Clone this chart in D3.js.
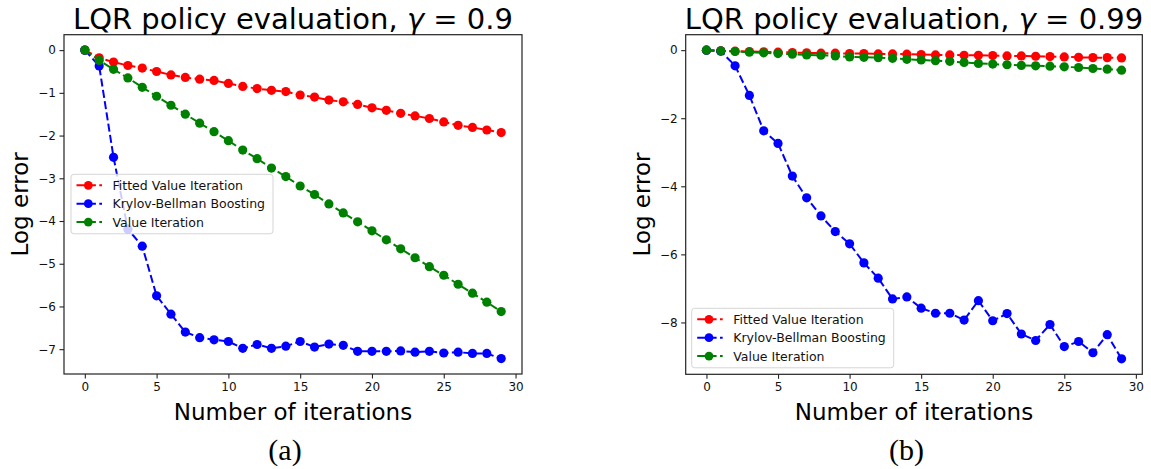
<!DOCTYPE html>
<html>
<head>
<meta charset="utf-8">
<script src="https://cdn.jsdelivr.net/npm/d3@7/dist/d3.min.js"></script>
<style>
  html, body { margin: 0; padding: 0; background: #fff; }
  svg { display: block; font-family: "DejaVu Sans", sans-serif; }
</style>
</head>
<body>
<svg id="chart" width="1151" height="469"></svg>
<script>
// ---------------- data ----------------
const iterations = [0,1,2,3,4,5,6,7,8,9,10,11,12,13,14,15,16,17,18,19,20,21,22,23,24,25,26,27,28,29];

const seriesNames = ["Fitted Value Iteration", "Krylov-Bellman Boosting", "Value Iteration"];
const seriesColors = ["#ff0000", "#0000ff", "#008000"];

// (a) gamma = 0.9
const fviA = [0,-0.18,-0.28,-0.36,-0.42,-0.50,-0.58,-0.64,-0.68,-0.71,-0.78,-0.85,-0.90,-0.94,-0.97,-1.05,-1.10,-1.17,-1.21,-1.27,-1.35,-1.41,-1.48,-1.54,-1.60,-1.68,-1.76,-1.81,-1.87,-1.93];
const kbbA = [0,-0.37,-2.51,-4.19,-4.59,-5.75,-6.18,-6.60,-6.73,-6.78,-6.82,-6.98,-6.89,-6.98,-6.93,-6.82,-6.95,-6.88,-6.91,-7.05,-7.05,-7.05,-7.04,-7.07,-7.05,-7.09,-7.07,-7.10,-7.10,-7.22];
const viA  = [0,-0.24,-0.45,-0.65,-0.87,-1.08,-1.29,-1.50,-1.71,-1.91,-2.12,-2.34,-2.54,-2.76,-2.96,-3.18,-3.38,-3.60,-3.81,-4.02,-4.23,-4.44,-4.65,-4.86,-5.07,-5.27,-5.48,-5.69,-5.90,-6.12];

// (b) gamma = 0.99
const fviB = [0,-0.02,-0.03,-0.04,-0.05,-0.06,-0.07,-0.08,-0.09,-0.09,-0.10,-0.10,-0.11,-0.11,-0.12,-0.13,-0.14,-0.14,-0.15,-0.15,-0.16,-0.17,-0.17,-0.18,-0.19,-0.20,-0.21,-0.22,-0.22,-0.23];
const kbbB = [0,-0.03,-0.46,-1.33,-2.37,-2.74,-3.70,-4.34,-4.87,-5.33,-5.69,-6.25,-6.70,-7.31,-7.25,-7.58,-7.73,-7.73,-7.93,-7.36,-7.95,-7.74,-8.34,-8.53,-8.06,-8.71,-8.56,-8.89,-8.36,-9.07];
const viB  = [0,-0.02,-0.04,-0.06,-0.08,-0.10,-0.12,-0.14,-0.15,-0.17,-0.20,-0.21,-0.22,-0.24,-0.27,-0.29,-0.31,-0.33,-0.36,-0.39,-0.41,-0.43,-0.45,-0.46,-0.47,-0.49,-0.51,-0.54,-0.56,-0.59];

const xTicks = [0,5,10,15,20,25,30];
const yTicksA = [-7,-6,-5,-4,-3,-2,-1,0];
const yTicksB = [-8,-6,-4,-2,0];

const titleA = "0.9", titleB = "0.99";
const captionA = "(a)", captionB = "(b)";
const xLabel = "Number of iterations", yLabel = "Log error";

// ---------------- drawing ----------------
const svg = d3.select("#chart");
svg.append("rect").attr("width", 1151).attr("height", 469).attr("fill", "#fff");

function panel(cfg) {
  const {x0, x1, y0, y1, series, yTicks, gammaText, caption, captionX, legend} = cfg;
  const g = svg.append("g");

  const allVals = series.flat();
  const [mn, mx] = d3.extent(allVals);
  const ym = (mx - mn) * 0.05;
  const xm = (d3.max(iterations) - d3.min(iterations)) * 0.05;

  const x = d3.scaleLinear().domain([d3.min(iterations) - xm, d3.max(iterations) + xm]).range([x0, x1]);
  const y = d3.scaleLinear().domain([mn - ym, mx + ym]).range([y1, y0]);

  const clipId = "clip" + Math.round(x0);
  svg.append("clipPath").attr("id", clipId)
    .append("rect").attr("x", x0).attr("y", y0).attr("width", x1 - x0).attr("height", y1 - y0);

  // lines & markers
  const plot = g.append("g").attr("clip-path", `url(#${clipId})`);
  const line = d3.line().x((d, i) => x(iterations[i])).y(d => y(d));
  series.forEach((vals, si) => {
    plot.append("path").datum(vals)
      .attr("d", line)
      .attr("fill", "none")
      .attr("stroke", seriesColors[si])
      .attr("stroke-width", 2)
      .attr("stroke-dasharray", "8,3.4");
    plot.selectAll(null).data(vals).enter().append("circle")
      .attr("cx", (d, i) => x(iterations[i]))
      .attr("cy", d => y(d))
      .attr("r", 4.6)
      .attr("fill", seriesColors[si]);
  });

  // axes
  const xAxis = d3.axisBottom(x).tickValues(xTicks).tickSize(4.5).tickPadding(3.5).tickFormat(d3.format("d"));
  const yAxis = d3.axisLeft(y).tickValues(yTicks).tickSize(4.5).tickPadding(3.5).tickFormat(d3.format("d"));
  const gx = g.append("g").attr("transform", `translate(0,${y1})`).call(xAxis);
  const gy = g.append("g").attr("transform", `translate(${x0},0)`).call(yAxis);
  [gx, gy].forEach(a => {
    a.select(".domain").remove();
    a.selectAll("text").attr("font-size", 12).attr("fill", "#111").attr("font-family", "DejaVu Sans");
    a.selectAll("line").attr("stroke", "#222").attr("stroke-width", 1.1);
  });

  // frame
  g.append("rect").attr("x", x0).attr("y", y0).attr("width", x1 - x0).attr("height", y1 - y0)
    .attr("fill", "none").attr("stroke", "#222").attr("stroke-width", 1.2);

  // title
  const t = g.append("text").attr("x", (x0 + x1) / 2).attr("y", 28.5)
    .attr("text-anchor", "middle").attr("font-size", 29).attr("fill", "#000");
  t.append("tspan").text("LQR policy evaluation, ");
  t.append("tspan").attr("font-style", "italic").text("γ");
  t.append("tspan").text(" = " + gammaText);

  // axis labels
  g.append("text").attr("x", (x0 + x1) / 2).attr("y", 420)
    .attr("text-anchor", "middle").attr("font-size", 23).attr("fill", "#000").text(xLabel);
  g.append("text").attr("transform", `translate(${x0 - 36},${(y0 + y1) / 2}) rotate(-90)`)
    .attr("text-anchor", "middle").attr("font-size", 23).attr("fill", "#000").text(yLabel);

  // caption
  g.append("text").attr("x", captionX).attr("y", 460)
    .attr("text-anchor", "middle").attr("font-size", 30)
    .attr("font-family", "Liberation Serif, serif").attr("fill", "#000").text(caption);

  // legend
  const lg = g.append("g").attr("transform", `translate(${legend.x},${legend.y})`);
  lg.append("rect").attr("x", 0).attr("y", 0).attr("width", 202).attr("height", 59.5)
    .attr("rx", 3).attr("ry", 3)
    .attr("fill", "#fff").attr("fill-opacity", 0.8)
    .attr("stroke", "#d5d5d5").attr("stroke-width", 1);
  seriesNames.forEach((name, i) => {
    const cy = 11 + i * 18.4;
    lg.append("line").attr("x1", 5.5).attr("x2", 31).attr("y1", cy).attr("y2", cy)
      .attr("stroke", seriesColors[i]).attr("stroke-width", 2).attr("stroke-dasharray", "8,3.4");
    lg.append("circle").attr("cx", 17.3).attr("cy", cy).attr("r", 4.4).attr("fill", seriesColors[i]);
    lg.append("text").attr("x", 41.5).attr("y", cy).attr("dy", "0.36em")
      .attr("font-size", 12.5).attr("fill", "#111").text(name);
  });
}

panel({
  x0: 64, x1: 522, y0: 34.7, y1: 374,
  series: [fviA, kbbA, viA], yTicks: yTicksA,
  gammaText: titleA, caption: captionA, captionX: 285,
  legend: {x: 71, y: 174.3}
});
panel({
  x0: 685.7, x1: 1142.3, y0: 34.7, y1: 374.3,
  series: [fviB, kbbB, viB], yTicks: yTicksB,
  gammaText: titleB, caption: captionB, captionX: 906.5,
  legend: {x: 691.7, y: 308.3}
});
</script>
</body>
</html>
